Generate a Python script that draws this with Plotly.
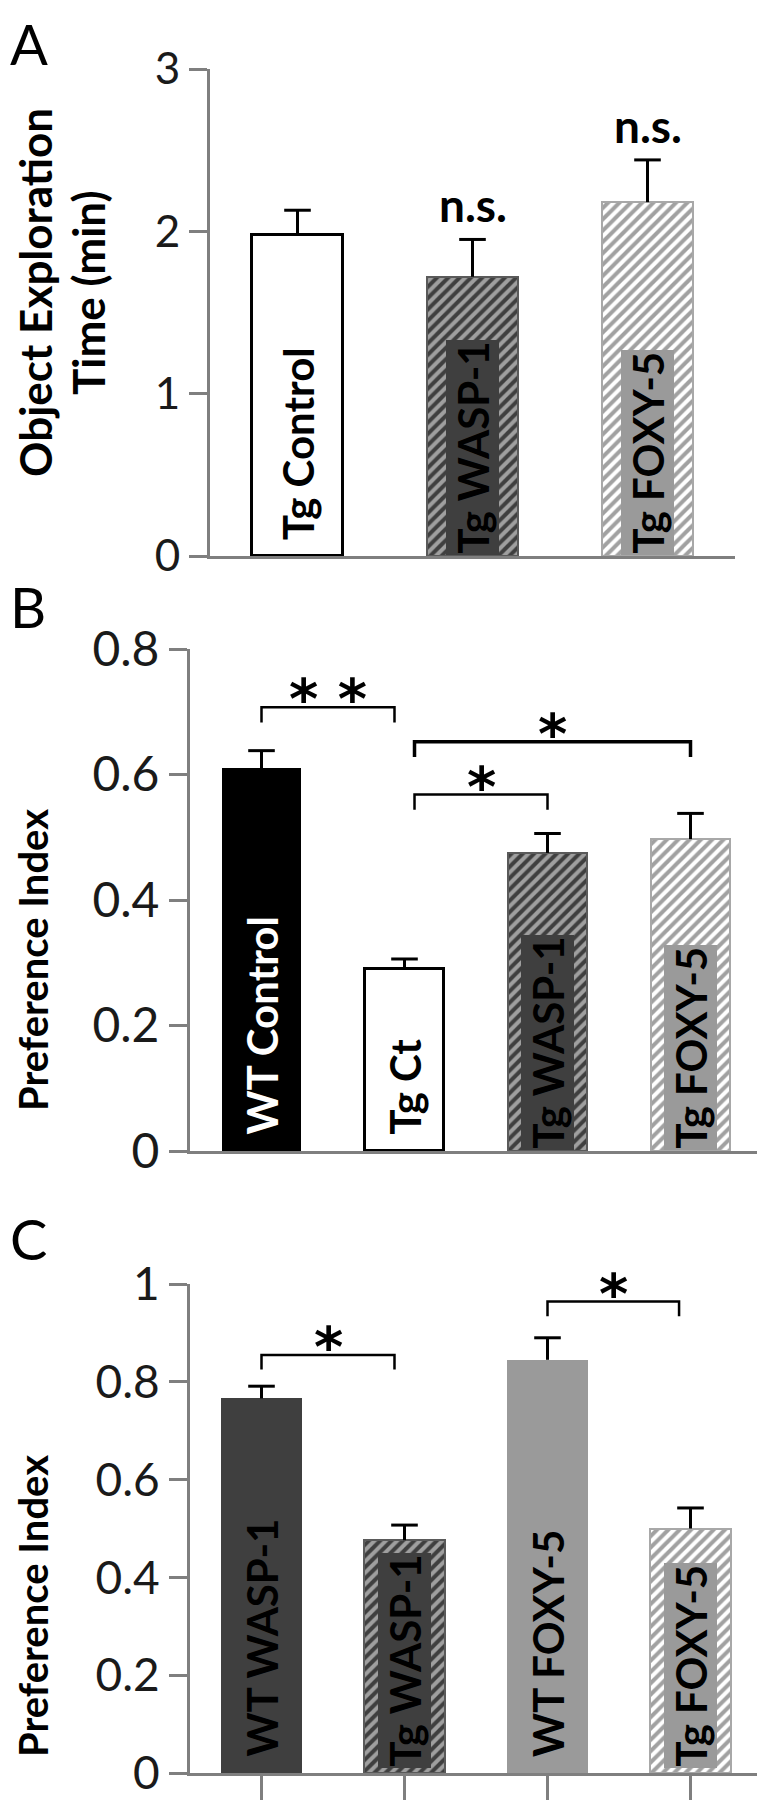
import plotly.graph_objects as go
from plotly.subplots import make_subplots

# ---- data ----
A_labels = ["Tg Control", "Tg WASP-1", "Tg FOXY-5"]
A_means = [1.98, 1.72, 2.18]
A_err = [0.15, 0.23, 0.26]
A_sig = ["", "n.s.", "n.s."]

B_labels = ["WT Control", "Tg Ct", "Tg WASP-1", "Tg FOXY-5"]
B_means = [0.61, 0.29, 0.475, 0.497]
B_err = [0.028, 0.016, 0.031, 0.041]
# (from, to, height, text)
B_brackets = [(0.0, 0.93, 0.707, "* *"), (1.07, 2.0, 0.568, "*"), (1.07, 3.0, 0.652, "*")]

C_labels = ["WT WASP-1", "Tg WASP-1", "WT FOXY-5", "Tg FOXY-5"]
C_means = [0.766, 0.476, 0.845, 0.50]
C_err = [0.025, 0.031, 0.045, 0.042]
C_brackets = [(0.0, 0.93, 0.855, "*"), (2.0, 2.92, 0.964, "*")]

# the page body has an 8px margin, so the figure is a bit smaller than the window
OFF = 8
W, H = 765 - OFF, 1800 - OFF

# bar styles: (fill, pattern shape, stripe colour, outline colour, outline width, text colour, box colour)
DARK, MID = "#3f3f3f", "#9a9a9a"
STYLE = {
    "white": ("white", "", "white", "black", 3, "black", None),
    "black": ("black", "", "black", "black", 0, "white", None),
    "dark": (DARK, "", DARK, DARK, 0, "black", None),
    "mid": (MID, "", MID, MID, 0, "black", None),
    "dark_hatch": (DARK, "/", "white", "#5a5a5a", 2, "black", DARK),
    "mid_hatch": ("white", "/", "#999999", "#a8a8a8", 2, "black", MID),
}
A_style = ["white", "dark_hatch", "mid_hatch"]
B_style = ["black", "white", "dark_hatch", "mid_hatch"]
C_style = ["dark", "dark_hatch", "mid", "mid_hatch"]

FONT = "Lato"


def fx(p):
    # page pixel -> paper fraction
    return (p - OFF) / W


def fy(p):
    return 1 - (p - OFF) / H


fig = make_subplots(rows=3, cols=1)

panels = [
    # labels, means, err, styles, ymax, dtick, bar width, x px range, y px range, tick size
    (A_labels, A_means, A_err, A_style, 3, 1, 0.52, (210, 735), (69, 556), 44),
    (B_labels, B_means, B_err, B_style, 0.8, 0.2, 0.55, (190, 762), (649, 1151), 48),
    (C_labels, C_means, C_err, C_style, 1.0, 0.2, 0.57, (190, 762), (1284, 1773), 46),
]

annots = []
for k, (labels, means, err, styles, ymax, dtick, bw, xr, yr, tsize) in enumerate(panels):
    row = k + 1
    n = len(labels)
    st = [STYLE[s] for s in styles]
    fig.add_trace(go.Bar(
        x=list(range(n)), y=means, width=bw,
        marker=dict(
            color=[s[0] for s in st],
            line=dict(color=[s[3] for s in st], width=[s[4] for s in st]),
            pattern=dict(shape=[s[1] for s in st],
                         fgcolor=[s[2] for s in st],
                         size=8, solidity=0.5, fillmode="overlay"),
        ),
        error_y=dict(type="data", array=err, arrayminus=[0] * n, symmetric=False,
                     color="black", thickness=3, width=0),
        showlegend=False, hoverinfo="skip",
    ), row=row, col=1)
    # error bar caps
    fig.add_trace(go.Scatter(
        x=list(range(n)), y=[m + e for m, e in zip(means, err)], mode="markers",
        marker=dict(symbol="line-ew", size=19, line=dict(width=3, color="black")),
        showlegend=False, hoverinfo="skip",
    ), row=row, col=1)

    xa = "x" if row == 1 else f"x{row}"
    ya = "y" if row == 1 else f"y{row}"
    for i, (lab, s) in enumerate(zip(labels, st)):
        box = s[6]
        annots.append(dict(
            x=i, y=0, xref=xa, yref=ya, text=lab, textangle=-90,
            showarrow=False, xanchor="center", yanchor="bottom",
            font=dict(family=FONT, size=42, color=s[5], weight=700),
            bgcolor=box if box else "rgba(0,0,0,0)", borderpad=1,
            yshift=(4 if (row == 3 and box) else (0 if box else 14)),
        ))

    fig.update_xaxes(
        domain=[fx(xr[0]), fx(xr[1])], range=[-0.5, n - 0.5], automargin=False,
        showline=True, linecolor="#7f7f7f", linewidth=3,
        showgrid=False, zeroline=False, showticklabels=False,
        ticks="outside" if row == 3 else "", tickson="boundaries",
        tickmode="linear", tick0=0, dtick=1, ticklen=30, tickwidth=3, tickcolor="#7f7f7f",
        row=row, col=1,
    )
    fig.update_yaxes(
        domain=[fy(yr[1]), fy(yr[0])], range=[0, ymax], dtick=dtick, tick0=0, automargin=False,
        showline=True, linecolor="#7f7f7f", linewidth=3,
        showgrid=False, zeroline=False, ticklabeloverflow="allow",
        ticks="outside", ticklen=18, tickwidth=3, tickcolor="#7f7f7f",
        tickfont=dict(family=FONT, size=tsize, color="#1a1a1a"),
        row=row, col=1,
    )

# significance labels in panel A
for i, (m, e, s) in enumerate(zip(A_means, A_err, A_sig)):
    if s:
        annots.append(dict(x=i, y=m + e, xref="x", yref="y", text=s, showarrow=False,
                           xanchor="center", yanchor="bottom", yshift=5,
                           font=dict(family=FONT, size=46, color="black", weight=700)))

# brackets for panels B and C
for row, brackets in ((2, B_brackets), (3, C_brackets)):
    drop = 0.024 if row == 2 else 0.03
    for j, (x0, x1, yb, txt) in enumerate(brackets):
        lw = 3.5 if (row == 2 and j == 2) else 2.5
        fig.add_trace(go.Scatter(
            x=[x0, x0, x1, x1], y=[yb - drop, yb, yb, yb - drop], mode="lines",
            line=dict(color="black", width=lw), showlegend=False, hoverinfo="skip",
        ), row=row, col=1)
        annots.append(dict(x=(x0 + x1) / 2, y=yb, xref=f"x{row}", yref=f"y{row}", text=txt,
                           showarrow=False, xanchor="center", yanchor="bottom", yshift=-26,
                           font=dict(family="DejaVu Sans", size=56, color="black", weight=700)))

# axis titles
annots.append(dict(x=fx(35), y=fy(293), xref="paper", yref="paper", text="Object Exploration",
                   textangle=-90, showarrow=False, xanchor="center", yanchor="middle",
                   font=dict(family=FONT, size=44, color="black", weight=700)))
annots.append(dict(x=fx(88), y=fy(293), xref="paper", yref="paper", text="Time (min)",
                   textangle=-90, showarrow=False, xanchor="center", yanchor="middle",
                   font=dict(family=FONT, size=44, color="black", weight=700)))
for yc in (960, 1606):
    annots.append(dict(x=fx(33), y=fy(yc), xref="paper", yref="paper",
                       text="Preference Index", textangle=-90, showarrow=False,
                       xanchor="center", yanchor="middle",
                       font=dict(family=FONT, size=40, color="black", weight=700)))

# panel letters
annots.append(dict(x=0, y=1, xref="paper", yref="paper", text="A", showarrow=False,
                   xanchor="left", yanchor="top", font=dict(family=FONT, size=56, color="black")))
for letter, yc in (("B", 607), ("C", 1238)):
    annots.append(dict(x=0, y=fy(yc), xref="paper", yref="paper", text=letter,
                       showarrow=False, xanchor="left", yanchor="middle",
                       font=dict(family=FONT, size=56, color="black")))

fig.update_layout(
    width=W, height=H, margin=dict(l=0, r=0, t=0, b=0, autoexpand=False),
    paper_bgcolor="white", plot_bgcolor="white",
    annotations=annots, bargap=0, showlegend=False,
)

fig.write_html("out.html")
